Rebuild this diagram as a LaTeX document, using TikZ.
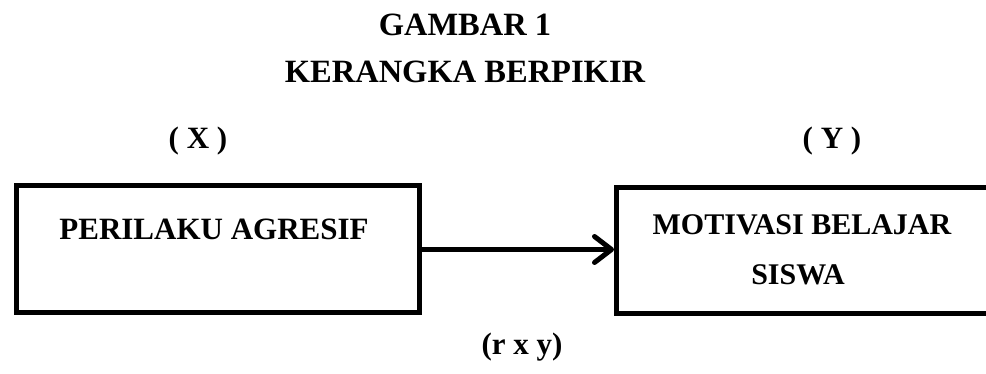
\documentclass[tikz,border=0pt]{standalone}
\usepackage{fontspec}
\setmainfont{Liberation Serif}
\usetikzlibrary{arrows.meta}

\tikzset{
  txt/.style={anchor=base, inner sep=0pt, font=\bfseries\fontsize{31}{37}\selectfont},
  frame/.style={draw=black, line width=5pt, fill=white, inner sep=0pt},
  link/.style={line width=5pt, -{Straight Barb[length=17pt, width=26pt, round]}}
}

\begin{document}
\begin{tikzpicture}[x=1pt, y=-1pt]
  \useasboundingbox (0,0) rectangle (986,374);
  \clip (0,0) rectangle (986,374);
  \fill[white] (0,0) rectangle (986,374);

  % headings
  \node[txt, font=\bfseries\fontsize{32.5}{38}\selectfont] (title) at (465,36) {GAMBAR 1};
  \node[txt, font=\bfseries\fontsize{32.5}{38}\selectfont] (subtitle) at (465,83) {KERANGKA BERPIKIR};

  % variable labels
  \node[txt] (lx) at (198,149) {( X )};
  \node[txt] (ly) at (832,149) {( Y )};

  % boxes
  \node[frame, minimum width=403pt, minimum height=127pt] (L) at (217.5,249.5) {};
  \node[frame, minimum width=400pt, minimum height=126pt, anchor=west] (R) at (614,251) {};

  \node[txt] (ltext) at (214,240) {PERILAKU AGRESIF};
  \node[txt, font=\bfseries\fontsize{30}{36}\selectfont] (rtext1) at (802,235) {MOTIVASI BELAJAR};
  \node[txt, font=\bfseries\fontsize{30}{36}\selectfont] (rtext2) at (798,285) {SISWA};

  % relation
  \draw[link] (L.east) -- (L.east -| R.west);

  \node[txt] (rxy) at (522,354) {(r x y)};
\end{tikzpicture}
\end{document}
